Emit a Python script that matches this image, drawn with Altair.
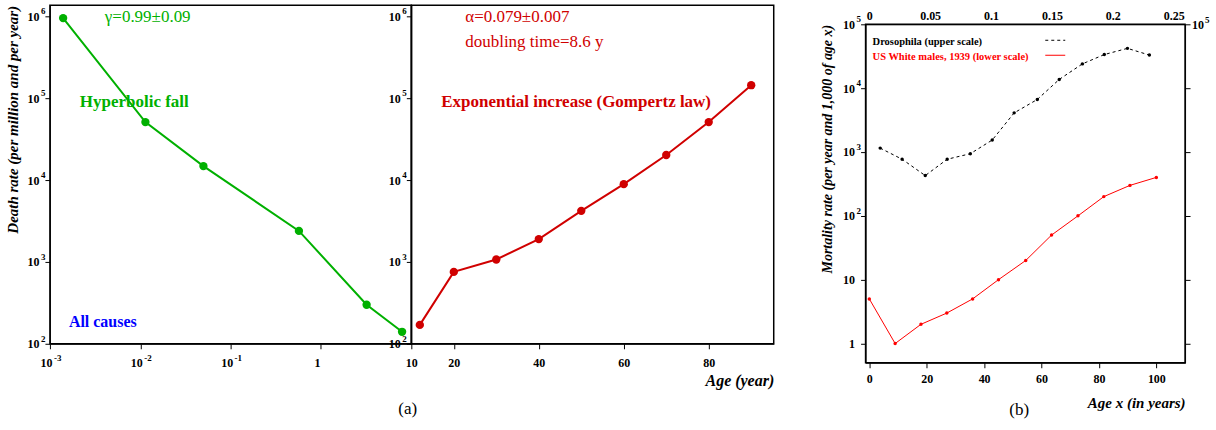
import altair as alt
import pandas as pd

# ---- data ----
young_age = [0.0014, 0.0114, 0.05, 0.57, 3.2, 7.9]
young_rate = [950000, 51000, 14800, 2390, 300, 140]

adult_age = [12, 20, 30, 40, 50, 60, 70, 80, 90]
adult_rate = [170, 755, 1070, 1900, 4200, 8900, 20200, 51000, 144000]

dros_x = [0.009, 0.027, 0.046, 0.064, 0.083, 0.101, 0.119, 0.138, 0.156, 0.175, 0.193, 0.212, 0.230]
dros_rate = [1150, 770, 427, 770, 940, 1540, 4100, 6650, 13700, 24000, 33600, 42000, 33000]

us_age = [0, 9, 18, 27, 36, 45, 54.5, 63.5, 72.7, 81.7, 90.8, 100]
us_rate = [5, 1, 2, 3, 5, 10, 20, 50, 100, 200, 300, 400]

a_y_ticks = [100, 1000, 10000, 100000, 1000000]
a_y_exps = ["2", "3", "4", "5", "6"]
young_x_ticks = [0.001, 0.01, 0.1, 1]
young_x_labels = ["10", "10", "10", "1"]
young_x_exp_ticks = [0.001, 0.01, 0.1]
young_x_exps = ["-3", "-2", "-1"]
adult_x_ticks = [10, 20, 40, 60, 80]
b_y_ticks = [1, 10, 100, 1000, 10000, 100000]
b_y_labels = ["1", "10", "10", "10", "10", "10"]
b_y_exp_ticks = [100, 1000, 10000, 100000]
b_y_exps = ["2", "3", "4", "5"]
b_x_ticks = [0, 20, 40, 60, 80, 100]
b_top_ticks = [0, 0.05, 0.1, 0.15, 0.2, 0.25]

FONT = "Liberation Serif"
GREEN = "#00b000"
DRED = "#d00000"
RED = "#ff0000"


def label_expr(values, labels):
    expr = "''"
    for v, l in reversed(list(zip(values, labels))):
        expr = f"datum.value == {v} ? '{l}' : ({expr})"
    return expr


def txt(t, x, y, color, size=17, weight="normal", style="normal", align="left"):
    return alt.Chart(pd.DataFrame({"t": [t]})).mark_text(
        font=FONT, fontSize=size, fontWeight=weight, fontStyle=style, color=color,
        align=align, baseline="middle"
    ).encode(x=alt.value(x), y=alt.value(y), text="t:N")


def y_exps(values, exps, yenc):
    df = pd.DataFrame({"rate": values, "e": exps})
    return alt.Chart(df).mark_text(font=FONT, fontSize=9, fontWeight="bold", color="black",
                                   align="left", baseline="middle", dy=-5).encode(
        x=alt.value(-9), y=yenc, text="e:N")


ax_common = dict(labelFont=FONT, labelFontWeight="bold", labelFontSize=12, labelColor="black",
                 tickColor="black", domainColor="black", grid=False,
                 labelFlush=False, labelOverlap=False)

ylog_a = alt.Scale(type="log", domain=[100, 1.36e6], nice=False)
xlog_l = alt.Scale(type="log", domain=[0.001, 10], nice=False)
H = 339

# ---- left panel ----
left_df = pd.DataFrame({"age": young_age, "rate": young_rate})
xl = alt.X("age:Q", scale=xlog_l,
           axis=alt.Axis(values=young_x_ticks, labelExpr=label_expr(young_x_ticks, young_x_labels),
                         title=None, labelPadding=9, labelOffset=-4, tickSize=5, **ax_common))
yl = alt.Y("rate:Q", scale=ylog_a,
           axis=alt.Axis(values=a_y_ticks, labelExpr=label_expr(a_y_ticks, ["10"] * 5),
                         title="Death rate (per million and per year)", titleAnchor="end",
                         titleFont=FONT, titleFontSize=15, titleFontWeight="bold",
                         titleFontStyle="italic", titleColor="black", titlePadding=6,
                         labelPadding=6, tickSize=5, **ax_common))
left_xexp = alt.Chart(pd.DataFrame({"age": young_x_exp_ticks, "e": young_x_exps})).mark_text(
    font=FONT, fontSize=9, fontWeight="bold", color="black", align="left", baseline="middle", dx=4
).encode(x=xl, y=alt.value(H + 14), text="e:N")

left = alt.layer(
    alt.Chart(left_df).mark_line(color=GREEN, strokeWidth=2).encode(xl, yl),
    alt.Chart(left_df).mark_circle(color=GREEN, size=70, opacity=1).encode(xl, yl),
    y_exps(a_y_ticks, a_y_exps, yl),
    left_xexp,
    txt("γ=0.99±0.09", 55, 12, GREEN),
    txt("Hyperbolic fall", 30, 97, GREEN, weight="bold"),
    txt("All causes", 19, 317, "#0000ff", size=16, weight="bold"),
).properties(width=362, height=H)

# ---- middle panel ----
mid_df = pd.DataFrame({"age": adult_age, "rate": adult_rate})
xm = alt.X("age:Q", scale=alt.Scale(domain=[10, 95.3], nice=False, zero=False),
           axis=alt.Axis(values=adult_x_ticks, title="Age (year)", titleAnchor="end",
                         titleFont=FONT, titleFontSize=16, titleFontWeight="bold",
                         titleFontStyle="italic", titleColor="black", titlePadding=4,
                         labelPadding=9, tickSize=5, **ax_common))
ym = alt.Y("rate:Q", scale=ylog_a,
           axis=alt.Axis(values=a_y_ticks, labelExpr=label_expr(a_y_ticks, ["10"] * 5),
                         title=None, labelPadding=6, tickSize=5, **ax_common))
middle = alt.layer(
    alt.Chart(mid_df).mark_line(color=DRED, strokeWidth=2).encode(xm, ym),
    alt.Chart(mid_df).mark_circle(color=DRED, size=70, opacity=1).encode(xm, ym),
    y_exps(a_y_ticks, a_y_exps, ym),
    txt("α=0.079±0.007", 54, 12, DRED),
    txt("doubling time=8.6 y", 54, 37, DRED),
    txt("Exponential increase (Gompertz law)", 30, 97, DRED, weight="bold"),
    txt("(a)", -13, 404, "black", size=17),
).properties(width=363, height=H)

# ---- right panel ----
ylog_b = alt.Scale(type="log", domain=[0.5, 100000], nice=False)
dros_df = pd.DataFrame({"x": dros_x, "rate": dros_rate})
us_df = pd.DataFrame({"age": us_age, "rate": us_rate})

xd = alt.X("x:Q", scale=alt.Scale(domain=[-0.003, 0.2593], nice=False, zero=False),
           axis=alt.Axis(orient="top", values=b_top_ticks, format="~g", title=None,
                         tickSize=0, labelPadding=2, **ax_common))
yd = alt.Y("rate:Q", scale=ylog_b,
           axis=alt.Axis(orient="right", values=b_y_ticks, labels=False, title=None,
                         tickSize=5, **ax_common))
xu = alt.X("age:Q", scale=alt.Scale(domain=[-1.3, 110], nice=False, zero=False),
           axis=alt.Axis(values=b_x_ticks, title="Age x (in years)", titleAnchor="end",
                         titleFont=FONT, titleFontSize=15, titleFontWeight="bold",
                         titleFontStyle="italic", titleColor="black", titlePadding=11,
                         labelPadding=6, tickSize=5, **ax_common))
yu = alt.Y("rate:Q", scale=ylog_b,
           axis=alt.Axis(values=b_y_ticks, labelExpr=label_expr(b_y_ticks, b_y_labels),
                         title="Mortality rate (per year and 1,000 of age x)", titleAnchor="end",
                         titleFont=FONT, titleFontSize=14, titleFontWeight="bold",
                         titleFontStyle="italic", titleColor="black", titlePadding=8,
                         labelPadding=6, tickSize=5, **ax_common))

W_B = 320
dros_layer = alt.layer(
    alt.Chart(dros_df).mark_line(color="black", strokeWidth=1, strokeDash=[3, 3]).encode(xd, yd),
    alt.Chart(dros_df).mark_circle(color="black", size=12, opacity=1).encode(xd, yd),
)
us_layer = alt.layer(
    alt.Chart(us_df).mark_line(color=RED, strokeWidth=1).encode(xu, yu),
    alt.Chart(us_df).mark_circle(color=RED, size=12, opacity=1).encode(xu, yu),
    y_exps(b_y_exp_ticks, b_y_exps, yu),
    alt.Chart(pd.DataFrame({"k": [0]})).mark_rule(color="black", strokeWidth=1, strokeDash=[3, 3]).encode(
        x=alt.value(180), x2=alt.value(200), y=alt.value(16)),
    alt.Chart(pd.DataFrame({"k": [0]})).mark_rule(color=RED, strokeWidth=1).encode(
        x=alt.value(180), x2=alt.value(200), y=alt.value(31)),
    txt("Drosophila (upper scale)", 7, 18, "black", size=10.5, weight="bold"),
    txt("US White males, 1939 (lower scale)", 7, 33, RED, size=10.5, weight="bold"),
    txt("10", W_B + 7, 1, "black", size=12, weight="bold"),
    txt("5", W_B + 20, -4, "black", size=9, weight="bold"),
    txt("(b)", 144, 386, "black", size=17),
)
right = alt.layer(us_layer, dros_layer).resolve_scale(x="independent").resolve_axis(
    y="independent").properties(width=W_B, height=H)

spacer = alt.Chart(pd.DataFrame({"k": [0]})).mark_point(opacity=0).encode(
    x=alt.value(0), y=alt.value(0)).properties(width=W_B, height=1,
                                               view=alt.ViewConfig(strokeOpacity=0))
right_col = alt.vconcat(spacer, right, spacing=0)

inner = alt.hconcat(left, middle, spacing=0, bounds="flush")
chart = alt.hconcat(inner, right_col, spacing=45).configure_view(
    stroke="black", strokeWidth=1.5).properties(
    padding={"left": 5, "top": 2, "right": 5, "bottom": 2}, background="white")

chart.save("out.html", embed_options={"renderer": "svg", "actions": False})
